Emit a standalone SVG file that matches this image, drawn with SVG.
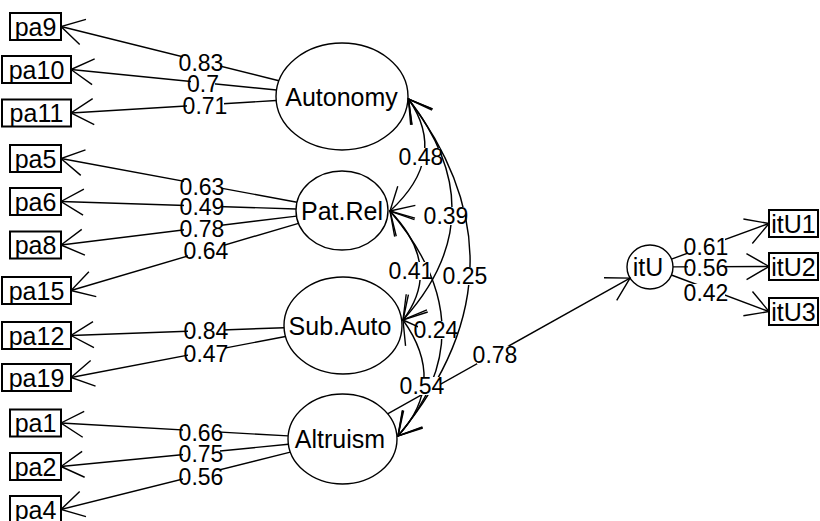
<svg xmlns="http://www.w3.org/2000/svg" width="820" height="521" viewBox="0 0 820 521">
<style>
.box{fill:#fff;stroke:#000;stroke-width:2}
.lat{fill:none;stroke:#000;stroke-width:1.4}
.e{fill:none;stroke:#000;stroke-width:1.4;marker-end:url(#arr)}
.c{fill:none;stroke:#000;stroke-width:1.4;marker-start:url(#arr);marker-end:url(#arr)}
.nt{font-family:"Liberation Sans",Arial,sans-serif;font-size:25px;text-anchor:middle;fill:#000}
.lt{font-family:"Liberation Sans",Arial,sans-serif;font-size:23px;text-anchor:middle;fill:#000}
.bg{fill:#fff}
</style>
<defs>
<marker id="arr" viewBox="-30 -16 32 32" refX="0" refY="0" markerWidth="32" markerHeight="32" markerUnits="userSpaceOnUse" orient="auto-start-reverse">
<path d="M-22.5,-13 L0,0 L-22.5,13" fill="none" stroke="#000" stroke-width="1.4"/>
</marker>
</defs>
<rect width="820" height="521" fill="#fff"/>
<g id="connectors">
<path class="e" d="M278.9,80.8 L61,26.5"/>
<path class="e" d="M276.5,90 L71,69.5"/>
<path class="e" d="M276.2,100.5 L71,113"/>
<path class="e" d="M297,202.2 L61,158.5"/>
<path class="e" d="M296,209 L61,201.5"/>
<path class="e" d="M296.5,216.1 L61,245"/>
<path class="e" d="M298.5,223.3 L71,290.5"/>
<path class="e" d="M284.1,327.7 L71,335.5"/>
<path class="e" d="M285.5,336.5 L71,377.5"/>
<path class="e" d="M288.1,435.9 L61,423"/>
<path class="e" d="M288.4,444.3 L61,466.5"/>
<path class="e" d="M290.3,452.1 L61,509.5"/>
<path class="e" d="M387.6,413.8 L630,278.1"/>
<path class="e" d="M671.5,259.1 L769,223.5"/>
<path class="e" d="M673,266.9 L769,266.5"/>
<path class="e" d="M671.4,275 L769,311.5"/>
<path class="c" d="M408.5,99 Q448.75,157 390,211"/>
<path class="c" d="M408.5,99 Q498.25,214.5 403,320"/>
<path class="c" d="M408.5,99 Q536.75,268.5 398,436"/>
<path class="c" d="M390,211 Q443.5,266.5 403,320"/>
<path class="c" d="M390,211 Q490,328.5 398,436"/>
<path class="c" d="M403,320 Q447.5,382 398,436"/>
</g>
<g id="edge-labels">
<rect class="bg" x="183" y="54" width="37" height="18"/><text class="lt" x="201" y="71">0.83</text>
<rect class="bg" x="191" y="75" width="24" height="18"/><text class="lt" x="203" y="92">0.7</text>
<rect class="bg" x="187" y="97" width="37" height="18"/><text class="lt" x="205" y="114">0.71</text>
<rect class="bg" x="184" y="178" width="37" height="18"/><text class="lt" x="202" y="195">0.63</text>
<rect class="bg" x="184" y="198" width="37" height="18"/><text class="lt" x="202" y="215">0.49</text>
<rect class="bg" x="184" y="220" width="37" height="18"/><text class="lt" x="202" y="237">0.78</text>
<rect class="bg" x="188" y="242" width="37" height="18"/><text class="lt" x="206" y="259">0.64</text>
<rect class="bg" x="188" y="322" width="37" height="18"/><text class="lt" x="206" y="339">0.84</text>
<rect class="bg" x="188" y="345" width="37" height="18"/><text class="lt" x="206" y="362">0.47</text>
<rect class="bg" x="183" y="424" width="37" height="18"/><text class="lt" x="201" y="441">0.66</text>
<rect class="bg" x="183" y="445" width="37" height="18"/><text class="lt" x="201" y="462">0.75</text>
<rect class="bg" x="183" y="468" width="37" height="18"/><text class="lt" x="201" y="485">0.56</text>
<rect class="bg" x="403" y="148" width="37" height="18"/><text class="lt" x="421" y="165">0.48</text>
<rect class="bg" x="428" y="207" width="37" height="18"/><text class="lt" x="446" y="224">0.39</text>
<rect class="bg" x="393" y="262" width="37" height="18"/><text class="lt" x="411" y="279">0.41</text>
<rect class="bg" x="447" y="267" width="37" height="18"/><text class="lt" x="465" y="284">0.25</text>
<rect class="bg" x="418" y="321" width="37" height="18"/><text class="lt" x="436" y="338">0.24</text>
<rect class="bg" x="404" y="377" width="37" height="18"/><text class="lt" x="422" y="394">0.54</text>
<rect class="bg" x="477" y="346" width="37" height="18"/><text class="lt" x="495" y="363">0.78</text>
<rect class="bg" x="688" y="238" width="37" height="18"/><text class="lt" x="706" y="255">0.61</text>
<rect class="bg" x="688" y="259" width="37" height="18"/><text class="lt" x="706" y="276">0.56</text>
<rect class="bg" x="688" y="284" width="37" height="18"/><text class="lt" x="706" y="301">0.42</text>
</g>
<g id="Autonomy"><ellipse class="lat" cx="342" cy="96.5" rx="66" ry="53.5"/><text class="nt" x="341.5" y="105.5">Autonomy</text></g>
<g id="Pat.Rel"><ellipse class="lat" cx="342" cy="210.5" rx="46" ry="39.5"/><text class="nt" x="342" y="219.5">Pat.Rel</text></g>
<g id="Sub.Auto"><ellipse class="lat" cx="343" cy="325.5" rx="59" ry="48.5"/><text class="nt" x="340" y="334.5">Sub.Auto</text></g>
<g id="Altruism"><ellipse class="lat" cx="342.5" cy="439" rx="54.5" ry="45"/><text class="nt" x="340" y="448">Altruism</text></g>
<g id="itU"><ellipse class="lat" cx="650" cy="267" rx="23" ry="22"/><text class="nt" x="648" y="275.5">itU</text></g>
<g id="pa9"><rect class="box" x="10" y="13" width="51" height="27"/><text class="nt" x="35.5" y="35.5">pa9</text></g>
<g id="pa10"><rect class="box" x="2" y="56" width="69" height="27"/><text class="nt" x="36.5" y="78.5">pa10</text></g>
<g id="pa11"><rect class="box" x="2" y="99.5" width="69" height="27"/><text class="nt" x="36.5" y="122">pa11</text></g>
<g id="pa5"><rect class="box" x="10" y="145" width="51" height="27"/><text class="nt" x="35.5" y="167.5">pa5</text></g>
<g id="pa6"><rect class="box" x="10" y="188" width="51" height="27"/><text class="nt" x="35.5" y="210.5">pa6</text></g>
<g id="pa8"><rect class="box" x="10" y="231.5" width="51" height="27"/><text class="nt" x="35.5" y="254">pa8</text></g>
<g id="pa15"><rect class="box" x="2" y="277" width="69" height="27"/><text class="nt" x="36.5" y="299.5">pa15</text></g>
<g id="pa12"><rect class="box" x="2" y="322" width="69" height="27"/><text class="nt" x="36.5" y="344.5">pa12</text></g>
<g id="pa19"><rect class="box" x="2" y="364" width="69" height="27"/><text class="nt" x="36.5" y="386.5">pa19</text></g>
<g id="pa1"><rect class="box" x="10" y="409.5" width="51" height="27"/><text class="nt" x="35.5" y="432">pa1</text></g>
<g id="pa2"><rect class="box" x="10" y="453" width="51" height="27"/><text class="nt" x="35.5" y="475.5">pa2</text></g>
<g id="pa4"><rect class="box" x="10" y="496" width="51" height="27"/><text class="nt" x="35.5" y="518.5">pa4</text></g>
<g id="itU1"><rect class="box" x="769" y="210" width="49" height="27"/><text class="nt" x="793.5" y="232.5">itU1</text></g>
<g id="itU2"><rect class="box" x="769" y="253" width="49" height="27"/><text class="nt" x="793.5" y="275.5">itU2</text></g>
<g id="itU3"><rect class="box" x="769" y="298" width="49" height="27"/><text class="nt" x="793.5" y="320.5">itU3</text></g>
</svg>
